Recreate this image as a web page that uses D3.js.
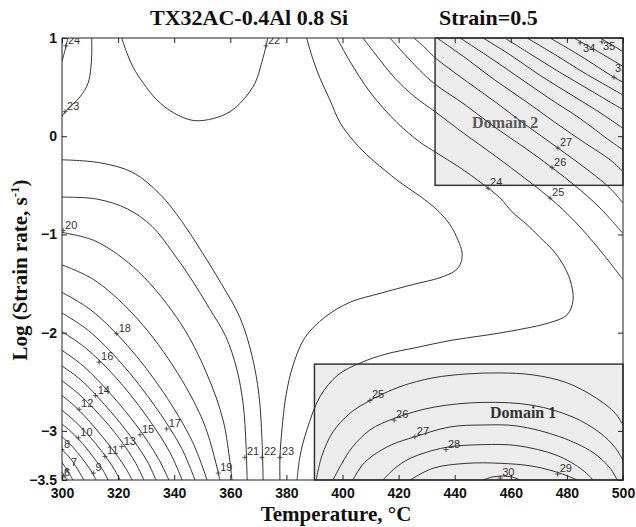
<!DOCTYPE html>
<html>
<head>
<meta charset="utf-8">
<script src="https://cdnjs.cloudflare.com/ajax/libs/d3/7.8.5/d3.min.js"></script>
<style>
  body { margin: 0; background: #fff; }
  svg { display: block; }
</style>
</head>
<body>
<div id="chart"></div>
<script>
// axis ticks
const tempTicks = [300, 320, 340, 360, 380, 400, 420, 440, 460, 480, 500];
const rateTicks = [1, 0, -1, -2, -3, -3.5];

// contour lines: [level, [[temperature, log strain rate], ...]]
const cornerContours = [
  [6, [[300, -3.42], [301.8, -3.5]]],
  [7, [[300, -3.32], [301.8, -3.4], [303.9, -3.5]]],
  [8, [[300, -3.19], [303.5, -3.3], [307.8, -3.5]]],
  [9, [[300, -3.06], [302.4, -3.12], [305.5, -3.22], [308.5, -3.33], [310.9, -3.43], [312.1, -3.5]]],
  [10, [[300, -2.93], [303.3, -3.01], [307.4, -3.13], [311.5, -3.28], [314.8, -3.41], [316.4, -3.5]]],
  [11, [[300, -2.79], [304.1, -2.89], [309.3, -3.04], [314.5, -3.22], [318.6, -3.39], [320.7, -3.5]]],
  [12, [[300, -2.64], [305, -2.76], [311.2, -2.95], [317.5, -3.17], [322.5, -3.37], [325, -3.5]]],
  [13, [[300, -2.49], [305.8, -2.62], [313.2, -2.83], [320.5, -3.08], [326.3, -3.33], [329.2, -3.5]]],
  [14, [[300, -2.34], [306.7, -2.48], [315.1, -2.73], [323.5, -3.02], [330.2, -3.3], [333.5, -3.5]]],
  [15, [[300, -2.18], [307.6, -2.34], [317.2, -2.62], [326.7, -2.95], [334.3, -3.28], [338.1, -3.5]]],
  [16, [[300, -1.99], [308.6, -2.16], [319.3, -2.46], [329.9, -2.84], [338.5, -3.22], [342.8, -3.5]]],
  [17, [[300, -1.8], [309.5, -1.98], [321.4, -2.32], [333.2, -2.75], [342.7, -3.18], [347.4, -3.5]]],
  [18, [[300, -1.59], [310.3, -1.77], [323.3, -2.13], [336.2, -2.61], [346.5, -3.11], [351.7, -3.5]]],
  [19, [[300, -1.31], [311.3, -1.46], [325.3, -1.81], [339.4, -2.33], [350.7, -2.93], [356.3, -3.5]]],
  [20, [[300, -0.98], [312.1, -1.07], [327.3, -1.38], [342.4, -1.91], [351.5, -2.41], [357.6, -2.91], [360.6, -3.5]]]
];

const saddleContours = [
  [21, [[300, -0.62], [312.5, -0.64], [323.3, -0.74], [332.2, -0.92], [339.4, -1.18], [346, -1.45], [352.5, -1.75], [358.4, -2.04], [362.3, -2.37], [364.6, -2.73], [365.6, -3.14], [366, -3.5]]],
  [22, [[300, -0.24], [313.5, -0.27], [325.3, -0.37], [334.9, -0.59], [342.8, -0.87], [349.9, -1.18], [357, -1.51], [363.5, -1.85], [367.7, -2.23], [370.2, -2.63], [371.3, -3.09], [371.7, -3.5]]],
  [22, [[321.3, 1], [323.1, 0.85], [325.4, 0.7], [329, 0.54], [333.8, 0.37], [339.7, 0.24], [346.8, 0.16], [353.9, 0.18], [359.9, 0.25], [364.6, 0.37], [368.8, 0.54], [371.2, 0.75], [373, 0.95], [373.3, 1]]],
  [23, [[310.6, 1], [310.6, 0.83], [310.3, 0.7], [309.3, 0.54], [306.4, 0.4], [302.9, 0.3], [301.1, 0.25], [300, 0.2]]],
  [24, [[300, 0.76], [301.1, 0.88], [302.1, 1]]],
  [23, [[387.2, 1], [389.5, 0.78], [392, 0.59], [395.5, 0.37], [399.1, 0.14], [403.7, -0.04], [408.7, -0.19], [414.4, -0.33], [420.5, -0.47], [427.6, -0.61], [433.7, -0.75], [438.3, -0.9], [441.2, -1.06], [442.6, -1.18], [442.2, -1.29], [440.1, -1.37], [434.8, -1.44], [425.1, -1.51], [413.4, -1.6], [402.7, -1.69], [393.8, -1.84], [386.6, -2.05], [382.4, -2.33], [379.9, -2.63], [378.4, -2.99], [377.7, -3.27], [377.7, -3.5]]],
  [24, [[398, 1], [402.7, 0.76], [409.8, 0.45], [419.4, 0.14], [427.6, -0.06], [433, -0.16], [441.9, -0.32], [449.7, -0.48], [456.2, -0.63], [460.8, -0.78], [465.8, -0.9], [470.4, -1.03], [475, -1.16], [478.3, -1.29], [481.1, -1.46], [482.2, -1.67], [480, -1.82], [473.6, -1.9], [460.8, -1.98], [450.1, -2.03], [438.3, -2.08], [426.6, -2.15], [415.2, -2.22], [406.2, -2.31], [398.4, -2.43], [392, -2.65], [387.3, -2.99], [384.9, -3.25], [383.8, -3.5]]]
];

const highContours = [
  [25, [[407.3, 1], [412.7, 0.8], [418.7, 0.59], [425.8, 0.4], [433, 0.25], [443.7, 0.02], [454.4, -0.2], [465.1, -0.43], [474, -0.63], [482.9, -0.87], [491.8, -1.16], [500, -1.46]]],
  [26, [[416.9, 1], [422.3, 0.83], [427.6, 0.67], [433, 0.53], [443.7, 0.32], [454.4, 0.09], [465.1, -0.12], [474.7, -0.32], [483.6, -0.52], [491.8, -0.73], [500, -0.99]]],
  [27, [[425.5, 1], [429.4, 0.9], [433, 0.8], [443.7, 0.57], [454.4, 0.35], [465.1, 0.12], [476.8, -0.12], [488.2, -0.36], [495.4, -0.53], [500, -0.68]]],
  [28, [[433.7, 1], [443.7, 0.8], [454.4, 0.57], [465.1, 0.36], [475.8, 0.14], [486.5, -0.07], [495.4, -0.24], [500, -0.36]]],
  [29, [[441.9, 1], [452.6, 0.8], [463.3, 0.59], [474, 0.38], [484.7, 0.18], [493.6, -0.01], [500, -0.14]]],
  [30, [[450.1, 1], [459.7, 0.83], [470.4, 0.62], [481.1, 0.43], [491.8, 0.24], [500, 0.08]]],
  [31, [[457.9, 1], [466.8, 0.84], [477.5, 0.65], [488.2, 0.47], [500, 0.27]]],
  [32, [[465.8, 1], [475.8, 0.83], [486.5, 0.64], [500, 0.42]]],
  [33, [[474, 1], [484.7, 0.82], [496.8, 0.6], [500, 0.55]]],
  [34, [[482.5, 1], [491.8, 0.85], [500, 0.71]]],
  [35, [[491.8, 1], [496.1, 0.93], [500, 0.86]]]
];

const domainOneContours = [
  [25, [[390.6, -3.5], [392.7, -3.25], [396.6, -3.01], [402.7, -2.82], [409.8, -2.69], [420.5, -2.55], [432.3, -2.46], [444.4, -2.42], [456.2, -2.41], [467.9, -2.43], [480, -2.51], [490.7, -2.67], [497.2, -2.82], [500, -2.94]]],
  [26, [[396.6, -3.5], [399.8, -3.33], [403.4, -3.17], [409.8, -2.99], [418.7, -2.87], [432.3, -2.76], [450.1, -2.71], [467.9, -2.74], [482.2, -2.86], [491.8, -3.02], [497.2, -3.17], [500, -3.3]]],
  [27, [[403.7, -3.5], [407, -3.35], [410.9, -3.25], [417.6, -3.14], [425.8, -3.06], [438.3, -2.96], [450.1, -2.94], [462.2, -2.95], [477.5, -3.06], [489.3, -3.22], [495.4, -3.38], [497.9, -3.5]]],
  [28, [[414.4, -3.5], [418.7, -3.38], [424.1, -3.28], [436.5, -3.17], [450.1, -3.14], [462.2, -3.15], [476.5, -3.25], [485.7, -3.4], [489.3, -3.5]]],
  [29, [[424.1, -3.5], [432.3, -3.38], [444.4, -3.33], [456.2, -3.33], [467.9, -3.36], [477.5, -3.43], [483.6, -3.5]]],
  [30, [[450.1, -3.5], [453.3, -3.47], [456.9, -3.46], [460.4, -3.47], [463.3, -3.5]]]
];

// contour labels: [text, temperature, log strain rate] at the '+' mark
const contourLabels = [
  ["6", 300.7, -3.46], ["7", 301.8, -3.4], ["8", 300, -3.19], ["9", 311.2, -3.43],
  ["10", 305.8, -3.07], ["11", 315.3, -3.26], ["12", 306.1, -2.78], ["13", 321.3, -3.16],
  ["14", 312, -2.64], ["15", 327.8, -3.04], ["16", 313.2, -2.3], ["17", 337.3, -2.98],
  ["18", 319.5, -2.01], ["19", 355.7, -3.43], ["20", 300.4, -0.96],
  ["21", 365.2, -3.27], ["22", 371.3, -3.27], ["23", 377.7, -3.27],
  ["23", 301.1, 0.25], ["24", 301.4, 0.92], ["22", 372.7, 0.92],
  ["24", 451.9, -0.53], ["25", 474, -0.63], ["26", 474.7, -0.32], ["27", 476.8, -0.12],
  ["34", 484.7, 0.95], ["35", 492.5, 0.96], ["33", 496.8, 0.6],
  ["25", 409.8, -2.69], ["26", 418.4, -2.89], ["27", 425.8, -3.06], ["28", 436.9, -3.19],
  ["29", 476.7, -3.44], ["30", 456.2, -3.48]
];

// stable domains
const domainNames = ["Domain 1", "Domain 2"];
const domainTemps = [[390, 500], [433, 500]];
const domainRates = [[-3.5, -2.32], [-0.5, 1]];
const domainTextAt = [[452.6, -2.87], [446.2, 0.08]];

var margin = {top: 38, right: 13, bottom: 47, left: 62};
var width = 636 - margin.left - margin.right,
    height = 527 - margin.top - margin.bottom;

const svg = d3.select('#chart')
  .append('svg')
  .attr('width', width + margin.left + margin.right)
  .attr('height', height + margin.top + margin.bottom);

const g = svg.append('g')
  .attr('transform', `translate(${margin.left},${margin.top})`);

const x = d3.scaleLinear().domain([300, 500]).range([0, width]);
const y = d3.scaleLinear().domain([-3.5, 1]).range([height, 0]);

svg.append('defs').append('clipPath').attr('id', 'plotclip')
  .append('rect').attr('width', width).attr('height', height);

// domain boxes
g.selectAll('.domain-box')
  .data(domainNames)
  .enter().append('rect')
  .attr('class', 'domain-box')
  .attr('x', (_, i) => x(domainTemps[i][0]))
  .attr('y', (_, i) => y(domainRates[i][1]))
  .attr('width', (_, i) => x(domainTemps[i][1]) - x(domainTemps[i][0]))
  .attr('height', (_, i) => y(domainRates[i][0]) - y(domainRates[i][1]))
  .attr('fill', '#ececec')
  .attr('stroke', '#333')
  .attr('stroke-width', 1.5);

g.selectAll('.domain-name')
  .data(domainNames)
  .enter().append('text')
  .attr('class', 'domain-name')
  .attr('x', (_, i) => x(domainTextAt[i][0]))
  .attr('y', (_, i) => y(domainTextAt[i][1]))
  .attr('font-family', '"Liberation Serif", "Times New Roman", serif')
  .attr('font-weight', 'bold')
  .attr('font-size', '16px')
  .attr('fill', (_, i) => i === 0 ? '#333' : '#5a5a5a')
  .text(d => d);

// contour lines
const line = d3.line()
  .x(d => x(d[0]))
  .y(d => y(d[1]))
  .curve(d3.curveCatmullRom.alpha(0.5));

const allContours = cornerContours.concat(saddleContours, highContours, domainOneContours);

const lines = g.append('g').attr('clip-path', 'url(#plotclip)');
lines.selectAll('path')
  .data(allContours)
  .enter().append('path')
  .attr('d', d => line(d[1]))
  .attr('fill', 'none')
  .attr('stroke', '#333')
  .attr('stroke-width', 1);

// clabel style '+' marks and numbers
const nudge = {"34": [3, 9], "35": [1, 8], "33": [1, -5], "6": [0, 0], "7": [4, -4]};
const labs = g.append('g').attr('clip-path', 'url(#plotclip)');
const lab = labs.selectAll('g')
  .data(contourLabels)
  .enter().append('g')
  .attr('transform', d => `translate(${x(d[1])},${y(d[2])})`);

lab.append('path')
  .attr('d', 'M-2.5,0H2.5M0,-2.5V2.5')
  .attr('stroke', '#333')
  .attr('stroke-width', 0.8);

lab.append('text')
  .attr('x', d => (nudge[d[0]] || [2, -2])[0])
  .attr('y', d => (nudge[d[0]] || [2, -2])[1])
  .attr('font-family', '"Liberation Sans", Arial, sans-serif')
  .attr('font-size', '11px')
  .attr('fill', '#333')
  .text(d => d[0]);

// axes, ticks pointing in on all four sides
const tickFont = g => g.selectAll('text')
  .attr('font-family', '"Liberation Sans", Arial, sans-serif')
  .attr('font-weight', 'bold')
  .attr('font-size', '14px')
  .attr('fill', '#111');

g.append('g')
  .attr('transform', `translate(0,${height})`)
  .call(d3.axisBottom(x).tickValues(tempTicks).tickSizeInner(-5).tickSizeOuter(0).tickPadding(8))
  .call(a => a.select('.domain').remove())
  .call(tickFont);

g.append('g')
  .call(d3.axisTop(x).tickValues(tempTicks).tickSizeInner(-5).tickSizeOuter(0).tickFormat(''))
  .call(a => a.select('.domain').remove());

g.append('g')
  .call(d3.axisLeft(y).tickValues(rateTicks).tickSizeInner(-5).tickSizeOuter(0).tickPadding(5).tickFormat(d3.format('')))
  .call(a => a.select('.domain').remove())
  .call(tickFont);

g.append('g')
  .attr('transform', `translate(${width},0)`)
  .call(d3.axisRight(y).tickValues(rateTicks).tickSizeInner(-5).tickSizeOuter(0).tickFormat(''))
  .call(a => a.select('.domain').remove());

g.selectAll('.tick line').attr('stroke', '#222');

g.append('rect')
  .attr('width', width)
  .attr('height', height)
  .attr('fill', 'none')
  .attr('stroke', '#222')
  .attr('stroke-width', 1);

// titles
const serif = '"Liberation Serif", "Times New Roman", serif';
svg.append('text')
  .attr('x', 150).attr('y', 25)
  .attr('font-family', serif).attr('font-weight', 'bold').attr('font-size', '22px')
  .attr('fill', '#111')
  .text('TX32AC-0.4Al 0.8 Si');

svg.append('text')
  .attr('x', 439).attr('y', 25)
  .attr('font-family', serif).attr('font-weight', 'bold').attr('font-size', '22px')
  .attr('fill', '#111')
  .text('Strain=0.5');

svg.append('text')
  .attr('x', 336).attr('y', 521)
  .attr('text-anchor', 'middle')
  .attr('font-family', serif).attr('font-weight', 'bold').attr('font-size', '21px')
  .attr('fill', '#111')
  .text('Temperature, °C');

const ylab = svg.append('text')
  .attr('transform', 'translate(27,270) rotate(-90)')
  .attr('text-anchor', 'middle')
  .attr('font-family', serif).attr('font-weight', 'bold').attr('font-size', '21px')
  .attr('fill', '#111');
ylab.append('tspan').text('Log (Strain rate, s');
ylab.append('tspan').attr('dy', -8).attr('font-size', '13px').text('-1');
ylab.append('tspan').attr('dy', 8).text(')');
</script>
</body>
</html>
